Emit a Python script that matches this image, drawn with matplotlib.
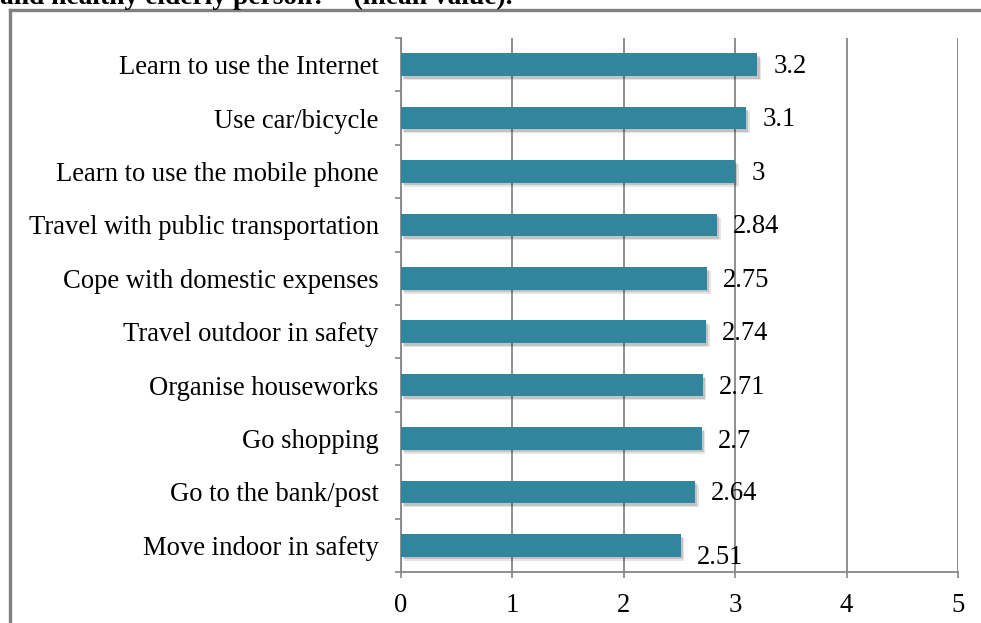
import matplotlib
matplotlib.use('Agg')
import matplotlib.pyplot as plt
import matplotlib.patheffects as pe
from matplotlib.lines import Line2D
import numpy as np

# activities and mean values (top to bottom)
activities = ['Learn to use the Internet', 'Use car/bicycle',
              'Learn to use the mobile phone', 'Travel with public transportation',
              'Cope with domestic expenses', 'Travel outdoor in safety',
              'Organise houseworks', 'Go shopping', 'Go to the bank/post',
              'Move indoor in safety']
means = [3.2, 3.1, 3, 2.84, 2.75, 2.74, 2.71, 2.7, 2.64, 2.51]
value_labels = ['3.2', '3.1', '3', '2.84', '2.75', '2.74', '2.71', '2.7', '2.64', '2.51']
xticks = [0, 1, 2, 3, 4, 5]

plt.rcParams['font.family'] = ['Liberation Serif', 'DejaVu Serif']

bar_color = '#31859c'
grid_color = '#868686'
fs = 19.2

fig = plt.figure(figsize=(9.81, 6.23), dpi=100)
ax = fig.add_axes([401/981, 1 - 572/623, (958 - 401)/981, (572 - 38)/623])

n = len(activities)
ypos = np.arange(n)
bars = ax.barh(ypos, means, height=0.42, color=bar_color, zorder=3)
# soft drop shadow under each bar
for b in bars:
    b.set_path_effects([pe.SimplePatchShadow(offset=(2.5, -3), shadow_rgbFace='#000000', alpha=0.10),
                        pe.SimplePatchShadow(offset=(1.5, -2), shadow_rgbFace='#000000', alpha=0.15),
                        pe.Normal()])

ax.set_ylim(n - 0.5, -0.5)
ax.set_xlim(0, 5)

# value labels, a bit past the bar end
label_dy = [-1.5, -1, -1.5, -1, -1.5, -1, -1.5, -2, -1, -9]
for i, (v, t) in enumerate(zip(means, value_labels)):
    ax.annotate(t, (v, i), xytext=(11.5, label_dy[i]), textcoords='offset points',
                ha='left', va='center', fontsize=fs, zorder=4)

ax.set_xticks(xticks)
ax.set_xticklabels([str(x) for x in xticks], fontsize=fs)
ax.set_yticks(ypos)
ax.set_yticklabels(activities, fontsize=fs)
ax.set_yticks(np.arange(n + 1) - 0.5, minor=True)

ax.tick_params(axis='y', which='major', length=0, pad=16)
ax.tick_params(axis='y', which='minor', length=4.5, width=1.2, color=grid_color, direction='out')
ax.tick_params(axis='x', which='major', length=4.5, width=1.2, color=grid_color, pad=10.5)

ax.xaxis.grid(True, color=grid_color, linewidth=1.3, zorder=0)
ax.set_axisbelow(True)
for s in ['top', 'right']:
    ax.spines[s].set_visible(False)
for s in ['left', 'bottom']:
    ax.spines[s].set_color(grid_color)
    ax.spines[s].set_linewidth(1.3)

# outer frame around the chart area
frame_kw = dict(color='#808080', linewidth=2.4, transform=fig.transFigure, clip_on=False)
fig.add_artist(Line2D([9.5/981, 9.5/981], [0, 1 - 9.5/623], **frame_kw))
fig.add_artist(Line2D([9.5/981, 1.0], [1 - 9.5/623, 1 - 9.5/623], **frame_kw))

# caption running above the frame
fig.text(0.0, 1 - 4/623, 'and healthy elderly person?\u201d  (mean value).',
         fontsize=19.8, fontweight='bold', ha='left', va='baseline')

fig.savefig('out.png', dpi=100)
